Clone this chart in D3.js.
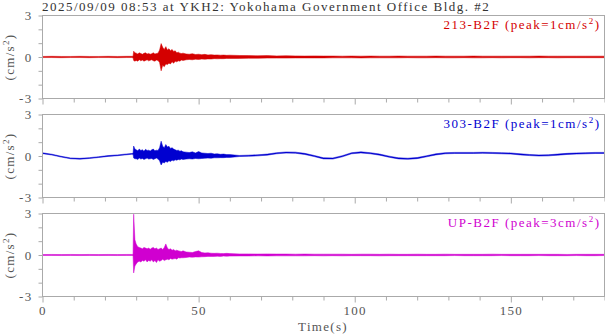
<!DOCTYPE html>
<html>
<head>
<meta charset="utf-8">
<script src="https://cdnjs.cloudflare.com/ajax/libs/d3/7.8.5/d3.min.js"></script>
<style>
  body { margin: 0; background: #fff; }
  text { font-family: "Liberation Serif", "Times New Roman", serif; }
</style>
</head>
<body>
<div class="chart"></div>
<script>
// record title + channel info
var title = "2025/09/09 08:53 at YKH2: Yokohama Government Office Bldg. #2";
var channels = ["213-B2F", "303-B2F", "UP-B2F"];
var peaks = [1, 1, 3];
var colors = ["#d40000", "#0000d0", "#d000d0"];

// tick labels
var yTicks = [-3, -2, -1, 0, 1, 2, 3];
var yLabels = [-3, 0, 3];
var xTicks = [0, 10, 20, 30, 40, 50, 60, 70, 80, 90, 100, 110, 120, 130, 140, 150, 160, 170, 180];
var xLabels = [0, 50, 100, 150];

// sample times (s) - the envelope of each trace is read at these times
var times = [0, 3, 6, 9, 12, 15, 18, 21, 24, 27, 28.5,
  29, 29.2, 29.6,
  30, 30.5, 31, 31.5, 32, 32.5, 33, 33.5, 34, 34.5, 35, 35.5, 36, 36.5, 37, 37.5, 38, 38.5, 39, 39.5, 40, 40.5, 41, 41.5, 42, 42.5, 43, 43.5, 44, 44.5, 45,
  46, 47, 48, 49, 50, 51, 52, 53, 54, 55, 56, 57, 58, 59, 60,
  63, 66, 69, 72, 75, 78, 81, 84, 87, 90, 93, 96, 99, 102, 105, 108, 111, 114, 117, 120,
  123, 126, 129, 132, 135, 138, 141, 144, 147, 150, 153, 156, 159, 162, 165, 168, 171, 174, 177, 180];

// 213-B2F upper / lower envelope (cm/s^2)
var hi213 = [0.04, 0.05, 0.04, 0.04, 0.05, 0.04, 0.04, 0.05, 0.04, 0.05, 0.05,
  0.05, 0.42, 0.3,
  0.28, 0.22, 0.3, 0.25, 0.2, 0.27, 0.3, 0.22, 0.26, 0.2, 0.24, 0.3, 0.22, 0.25, 0.28, 0.5, 0.97, 0.7, 0.55, 0.75, 0.5, 0.6, 0.45, 0.55, 0.4, 0.45, 0.3, 0.35, 0.28, 0.25, 0.28,
  0.22, 0.2, 0.24, 0.18, 0.2, 0.17, 0.19, 0.15, 0.17, 0.14, 0.15, 0.13, 0.14, 0.12, 0.13,
  0.11, 0.1, 0.09, 0.1, 0.08, 0.09, 0.08, 0.07, 0.08, 0.07, 0.07, 0.06, 0.07, 0.06, 0.07, 0.06, 0.06, 0.07, 0.06, 0.06,
  0.06, 0.07, 0.06, 0.06, 0.06, 0.07, 0.06, 0.06, 0.06, 0.06, 0.06, 0.06, 0.07, 0.06, 0.06, 0.06, 0.06, 0.06, 0.06, 0.06];
var lo213 = [-0.04, -0.04, -0.05, -0.04, -0.04, -0.05, -0.04, -0.04, -0.05, -0.04, -0.04,
  -0.05, -0.25, -0.3,
  -0.25, -0.3, -0.2, -0.28, -0.22, -0.3, -0.25, -0.2, -0.28, -0.24, -0.2, -0.27, -0.3, -0.22, -0.25, -0.4, -1.0, -0.6, -0.7, -0.5, -0.55, -0.45, -0.5, -0.35, -0.45, -0.3, -0.35, -0.28, -0.3, -0.22, -0.25,
  -0.2, -0.18, -0.2, -0.16, -0.18, -0.15, -0.16, -0.14, -0.15, -0.12, -0.13, -0.12, -0.12, -0.1, -0.11,
  -0.1, -0.09, -0.09, -0.08, -0.08, -0.08, -0.07, -0.07, -0.07, -0.07, -0.06, -0.06, -0.06, -0.07, -0.06, -0.06, -0.06, -0.06, -0.05, -0.06,
  -0.06, -0.05, -0.06, -0.06, -0.05, -0.06, -0.06, -0.05, -0.06, -0.05, -0.05, -0.06, -0.05, -0.05, -0.06, -0.05, -0.05, -0.05, -0.05, -0.05];

// 303-B2F upper / lower envelope (long period drift under it)
var hi303 = [0.23, 0.13, -0.02, -0.14, -0.17, -0.12, -0.05, 0.03, 0.08, 0.15, 0.18,
  0.19, 0.72, 0.5,
  0.45, 0.38, 0.5, 0.4, 0.45, 0.35, 0.48, 0.4, 0.42, 0.36, 0.45, 0.5, 0.38, 0.42, 0.4, 0.6, 1.07, 0.7, 0.6, 0.83, 0.65, 0.7, 0.55, 0.6, 0.5, 0.45, 0.4, 0.42, 0.35, 0.38, 0.3,
  0.28, 0.25, 0.3, 0.22, 0.32, 0.22, 0.2, 0.18, 0.2, 0.15, 0.16, 0.12, 0.14, 0.1, 0.1,
  0.04, 0.06, 0.09, 0.14, 0.24, 0.29, 0.28, 0.19, 0.04, -0.13, -0.14, 0.02, 0.24, 0.3, 0.24, 0.14, -0.01, -0.13, -0.16, -0.11,
  0.02, 0.16, 0.24, 0.26, 0.26, 0.26, 0.27, 0.26, 0.24, 0.22, 0.16, 0.11, 0.08, 0.09, 0.14, 0.19, 0.22, 0.24, 0.26, 0.26];
var lo303 = [0.17, 0.07, -0.08, -0.2, -0.23, -0.18, -0.11, -0.03, 0.02, 0.09, 0.12,
  0.12, -0.15, -0.2,
  -0.2, -0.25, -0.15, -0.22, -0.18, -0.25, -0.2, -0.15, -0.22, -0.2, -0.18, -0.25, -0.2, -0.15, -0.22, -0.35, -0.65, -0.45, -0.5, -0.4, -0.45, -0.35, -0.4, -0.3, -0.35, -0.28, -0.3, -0.25, -0.28, -0.22, -0.25,
  -0.22, -0.2, -0.22, -0.18, -0.2, -0.18, -0.16, -0.15, -0.16, -0.13, -0.13, -0.12, -0.12, -0.1, -0.1,
  -0.04, -0.02, 0.01, 0.06, 0.16, 0.21, 0.2, 0.11, -0.04, -0.21, -0.22, -0.06, 0.16, 0.22, 0.16, 0.06, -0.09, -0.21, -0.24, -0.19,
  -0.06, 0.08, 0.16, 0.18, 0.18, 0.18, 0.19, 0.18, 0.16, 0.14, 0.08, 0.03, 0.0, 0.01, 0.06, 0.11, 0.14, 0.16, 0.18, 0.18];

// UP-B2F upper / lower envelope
var hiUP = [0.03, 0.04, 0.03, 0.04, 0.03, 0.04, 0.03, 0.04, 0.03, 0.04, 0.04,
  0.04, 2.95, 1.1,
  0.8, 0.6, 0.55, 0.5, 0.45, 0.55, 0.5, 0.45, 0.5, 0.42, 0.5, 0.55, 0.45, 0.5, 0.4, 0.45, 0.5, 0.4, 0.55, 0.8, 0.5, 0.4, 0.45, 0.35, 0.4, 0.3, 0.35, 0.3, 0.28, 0.25, 0.3,
  0.22, 0.2, 0.18, 0.25, 0.3, 0.18, 0.15, 0.16, 0.13, 0.12, 0.13, 0.11, 0.1, 0.12, 0.1,
  0.08, 0.08, 0.07, 0.08, 0.07, 0.07, 0.06, 0.07, 0.06, 0.06, 0.06, 0.06, 0.05, 0.06, 0.06, 0.05, 0.06, 0.05, 0.05, 0.06,
  0.05, 0.05, 0.06, 0.05, 0.05, 0.05, 0.05, 0.06, 0.05, 0.05, 0.05, 0.05, 0.05, 0.05, 0.05, 0.04, 0.05, 0.05, 0.05, 0.05];
var loUP = [-0.03, -0.03, -0.04, -0.03, -0.04, -0.03, -0.04, -0.03, -0.04, -0.03, -0.03,
  -0.04, -1.3, -0.8,
  -0.65, -0.5, -0.45, -0.5, -0.4, -0.45, -0.35, -0.5, -0.4, -0.45, -0.35, -0.5, -0.4, -0.55, -0.35, -0.45, -0.4, -0.3, -0.4, -0.35, -0.3, -0.35, -0.25, -0.3, -0.28, -0.25, -0.3, -0.2, -0.22, -0.2, -0.2,
  -0.18, -0.15, -0.16, -0.14, -0.15, -0.13, -0.12, -0.1, -0.11, -0.1, -0.09, -0.1, -0.08, -0.09, -0.08,
  -0.07, -0.07, -0.06, -0.07, -0.06, -0.06, -0.06, -0.06, -0.05, -0.06, -0.05, -0.06, -0.05, -0.05, -0.05, -0.06, -0.05, -0.05, -0.05, -0.05,
  -0.05, -0.05, -0.05, -0.04, -0.05, -0.05, -0.05, -0.05, -0.04, -0.05, -0.05, -0.05, -0.04, -0.05, -0.05, -0.05, -0.04, -0.05, -0.05, -0.04];

var highs = [hi213, hi303, hiUP];
var lows = [lo213, lo303, loUP];

// dimensions of the page + panels
var margin = { top: 15, right: 1, bottom: 38, left: 42 },
  width = 605 - margin.left - margin.right,
  panelH = 83,
  panelStep = 99;

var svg = d3.select(".chart")
  .append("svg")
  .attr("width", 605)
  .attr("height", 334);

svg.append("text")
  .attr("x", 42)
  .attr("y", 11)
  .style("font-size", "13px")
  .style("letter-spacing", "1.5px")
  .style("fill", "#333")
  .text(title);

var x = d3.scaleLinear()
  .domain([0, 180])
  .range([0, width]);

var y = d3.scaleLinear()
  .domain([-3, 3])
  .range([panelH, 0]);

var area = d3.area()
  .x(function (d) { return x(d.t); })
  .y0(function (d) { return y(d.lo); })
  .y1(function (d) { return y(d.hi); });

channels.forEach(function (name, i) {
  var g = svg.append("g")
    .attr("transform", "translate(" + (margin.left + 0.5) + "," + (margin.top + i * panelStep + 0.5) + ")");

  var rows = times.map(function (t, j) {
    return { t: t, hi: highs[i][j], lo: lows[i][j] };
  });

  // the trace
  g.append("path")
    .datum(rows)
    .attr("d", area)
    .attr("fill", colors[i])
    .attr("stroke", colors[i])
    .attr("stroke-width", 0.5)
    .attr("stroke-linejoin", "round");

  // frame
  g.append("rect")
    .attr("width", width)
    .attr("height", panelH)
    .attr("fill", "none")
    .attr("stroke", "#aaa");

  // y axis
  var yAxis = g.append("g")
    .call(d3.axisLeft(y)
      .tickValues(yTicks)
      .tickSize(4)
      .tickPadding(6)
      .tickFormat(function (d) { return yLabels.indexOf(d) >= 0 ? String(d) : ""; }));

  // x axis (labels only on the last panel)
  var xAxis = g.append("g")
    .attr("transform", "translate(0," + panelH + ")")
    .call(d3.axisBottom(x)
      .tickValues(xTicks)
      .tickSize(4)
      .tickPadding(5)
      .tickFormat(function (d) { return (i == 2 && xLabels.indexOf(d) >= 0) ? d : ""; }));
  xAxis.selectAll(".tick line")
    .attr("y2", function (d) { return d % 50 == 0 ? 6 : 4; });

  [yAxis, xAxis].forEach(function (a) {
    a.select(".domain").remove();
    a.selectAll(".tick line").attr("stroke", "#aaa");
    a.selectAll(".tick text")
      .style("font-family", "'Liberation Serif', serif")
      .style("font-size", "13px")
      .style("letter-spacing", "1.3px")
      .style("fill", "#555");
  });

  // y label (cm/s^2)
  var yl = g.append("text")
    .attr("transform", "translate(" + (13 - margin.left) + "," + (panelH / 2) + ") rotate(-90)")
    .attr("text-anchor", "middle")
    .style("font-size", "13px")
    .style("letter-spacing", "1.3px")
    .style("fill", "#555");
  yl.append("tspan").text("(cm/s");
  yl.append("tspan").attr("dy", -5).style("font-size", "9px").text("2");
  yl.append("tspan").attr("dy", 5).text(")");

  // channel name top right
  var lab = g.append("text")
    .attr("x", width - 4)
    .attr("y", 13)
    .attr("text-anchor", "end")
    .style("font-size", "13px")
    .style("letter-spacing", "1.5px")
    .style("fill", colors[i]);
  lab.append("tspan").text(name + " (peak=" + peaks[i] + "cm/s");
  lab.append("tspan").attr("dy", -5).style("font-size", "9px").text("2");
  lab.append("tspan").attr("dy", 5).text(")");
});

// x axis title
svg.append("text")
  .attr("x", margin.left + width / 2)
  .attr("y", 331)
  .attr("text-anchor", "middle")
  .style("font-size", "13px")
  .style("letter-spacing", "1.3px")
  .style("fill", "#555")
  .text("Time(s)");
</script>
</body>
</html>
